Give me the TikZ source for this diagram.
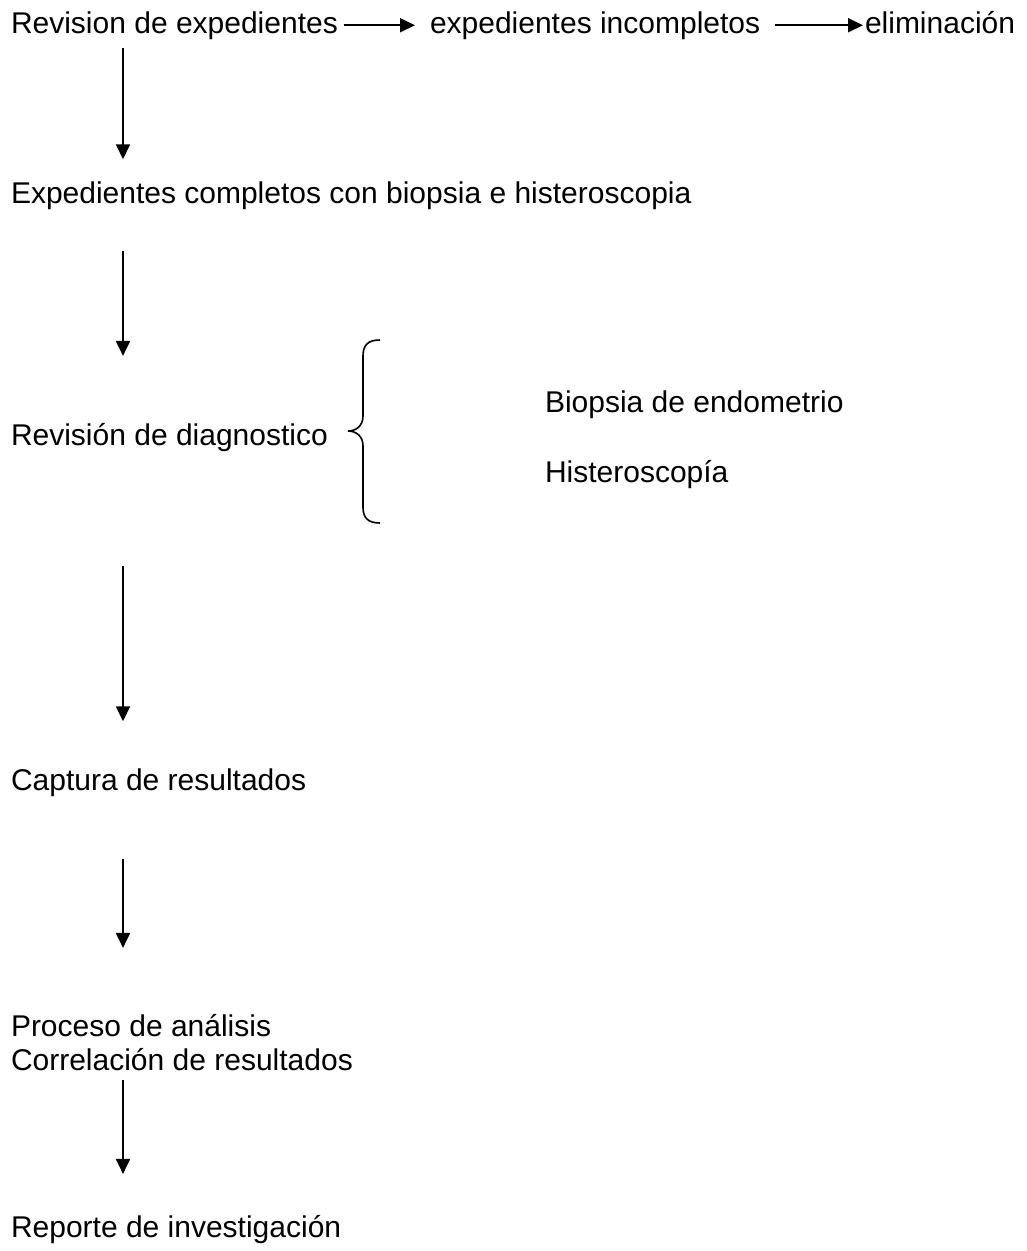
\documentclass[tikz,border=0pt]{standalone}
\usepackage{fontspec}
\setmainfont{Liberation Sans}
\usepackage{tikz}
\usetikzlibrary{arrows.meta}
\usetikzlibrary{positioning}

\begin{document}
\begin{tikzpicture}[x=1pt, y=-1pt, line width=2pt]
	\useasboundingbox (0,0) rectangle (1027,1251);
	\coordinate (c) at (123,0);

	\begin{scope}[every node/.style={anchor=base west, inner sep=0pt,
	              font=\fontsize{30}{34.5}\selectfont}]
		\node (1) at (10,33) {Revision de expedientes};
		\node (2) at (429,33) {expedientes incompletos};
		\node (3) at (864,33) {eliminación};
		\node (4) at (10,203) {Expedientes completos con biopsia e histeroscopia};
		\node (5) at (10,445) {Revisión de diagnostico};
		\node (6) at (544,412) {Biopsia de endometrio};
		\node (7) at (544,482) {Histeroscopía};
		\node (8) at (10,790) {Captura de resultados};
		\node (9) at (10,1036) {Proceso de análisis};
		\node (10) at (10,1070) {Correlación de resultados};
		\node (11) at (10,1237) {Reporte de investigación};
	\end{scope}

	\begin{scope}[>={Triangle[length=15pt, width=14pt, black]},
	              every edge/.style={draw=black, ->}]
		\path (1.east) edge[shorten <=5pt, shorten >=14pt] (2.west);
		\path (2.east) edge[shorten <=14pt, shorten >=1pt] (2.east -| 3.west);
		\path (1.south -| c) edge[shorten <=8pt, shorten >=21pt] (4.north -| c);
		\path (4.south -| c) edge[shorten <=41pt, shorten >=66pt] (5.north -| c);
		\path (5.south -| c) edge[shorten <=114pt, shorten >=46pt] (8.north -| c);
		\path (8.south -| c) edge[shorten <=62pt, shorten >=65pt] (9.north -| c);
		\path (10.south -| c) edge[shorten <=9pt, shorten >=40pt] (11.north -| c);
	\end{scope}

	% llave
	\draw[line width=1.6pt] (380,340) .. controls (368,340) and (363,345) .. (363,356) -- (363,416)
	      .. controls (363,426) and (356,431) .. (348,431)
	      .. controls (356,431) and (363,436) .. (363,446) -- (363,507)
	      .. controls (363,518) and (368,523) .. (380,523);
\end{tikzpicture}
\end{document}
